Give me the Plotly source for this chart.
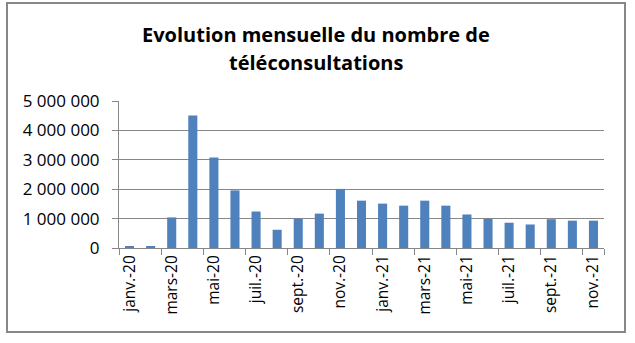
import plotly.graph_objects as go

months = ["janv.-20", "févr.-20", "mars-20", "avr.-20", "mai-20", "juin-20",
          "juil.-20", "août-20", "sept.-20", "oct.-20", "nov.-20", "déc.-20",
          "janv.-21", "févr.-21", "mars-21", "avr.-21", "mai-21", "juin-21",
          "juil.-21", "août-21", "sept.-21", "oct.-21", "nov.-21"]
teleconsultations = [45000, 50000, 1040000, 4510000, 3080000, 1960000,
                     1240000, 620000, 1000000, 1170000, 2010000, 1610000,
                     1510000, 1440000, 1610000, 1440000, 1140000, 990000,
                     860000, 800000, 980000, 930000, 930000]
tick_labels = months[::2]
y_ticks = [0, 1000000, 2000000, 3000000, 4000000, 5000000]
title_lines = ["Evolution mensuelle du nombre de", "téléconsultations"]

W, H = 635, 343
L, R, T, B = 119, 31, 101, 95
pw, ph = W - L - R, H - T - B

def px(x):
    return (x - L) / pw

def py(y):
    return (H - B - y) / ph

fig = go.Figure(go.Bar(x=months, y=teleconsultations, marker_color="#4F81BD",
                       marker_line_width=0))

grey = "#878787"
fig.update_layout(
    width=W, height=H,
    margin=dict(l=L, r=R, t=T, b=B),
    paper_bgcolor="white", plot_bgcolor="white",
    bargap=0.57,
    separators=", ",
    showlegend=False,
    font=dict(family="Open Sans", color="black"),
    shapes=[dict(type="rect", xref="paper", yref="paper",
                 x0=px(7), x1=px(625), y0=py(332), y1=py(3),
                 line=dict(color=grey, width=2), layer="below")],
    annotations=[
        dict(text="<b>%s</b>" % t, xref="paper", yref="paper",
             x=px(316), y=py(yc), xanchor="center", yanchor="middle",
             showarrow=False, font=dict(family="Open Sans", size=20, color="black"))
        for t, yc in zip(title_lines, [35, 63])
    ],
)
fig.update_xaxes(type="category", tickson="boundaries", tickmode="array",
                 tickvals=tick_labels, ticktext=tick_labels,
                 tickangle=-90, ticks="outside", ticklen=6, tickcolor=grey,
                 showline=True, linecolor=grey, linewidth=1,
                 showgrid=False, tickfont=dict(size=15.5, family="Open Sans"))
fig.update_yaxes(range=[0, 5000000], tickvals=y_ticks, tickformat=",d",
                 ticks="outside", ticklen=6, tickcolor=grey,
                 showline=True, linecolor=grey, linewidth=1,
                 showgrid=True, gridcolor=grey, gridwidth=1,
                 zeroline=False, ticklabelstandoff=9,
                 tickfont=dict(size=17, family="Open Sans"))

fig.write_html("out.html")
